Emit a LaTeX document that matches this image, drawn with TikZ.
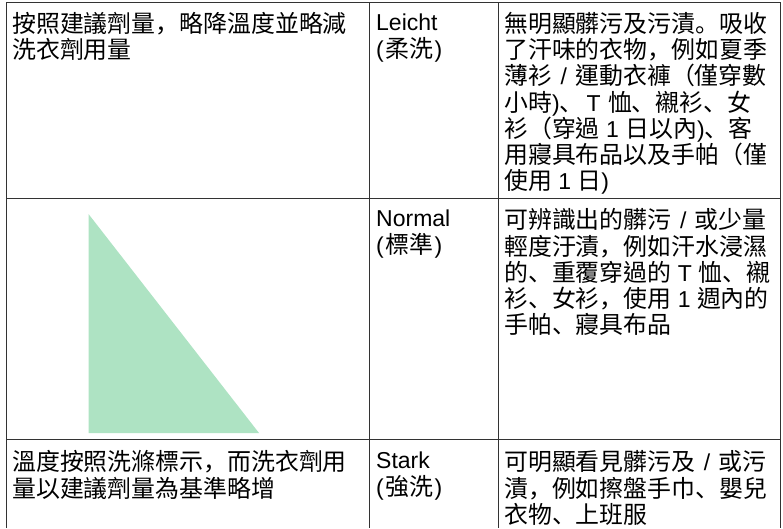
\documentclass[tikz,border=0pt]{standalone}
\usepackage{fontspec}
\setmainfont{Liberation Sans}
\newfontfamily\zhfont{Noto Sans CJK TC}
\newfontfamily\zpfont{Noto Sans CJK SC}
\newcommand{\zh}[1]{{\fontsize{23.9}{26.25}\selectfont\zhfont #1}}
\newcommand{\zp}[1]{{\fontsize{23.9}{26.25}\selectfont\zpfont #1}}
\newcommand{\slashsep}{\hspace{8.5pt}/\hspace{8.5pt}}
\newcommand{\lp}{(\hspace{1.5pt}}
\newcommand{\rp}{\hspace{1.5pt})}
\definecolor{gridc}{HTML}{333333}
\definecolor{tri}{HTML}{AEE3C3}
\tikzset{
  cell/.style={anchor=north west,inner sep=0pt,align=left,font=\fontsize{23}{26.25}\selectfont,
    execute at begin node={\rule{0pt}{21pt}}},
  gridline/.style={draw=gridc,line width=1pt}
}
\begin{document}
\begin{tikzpicture}[x=1pt,y=-1pt]
\useasboundingbox (0,0) rectangle (783,528);
\fill[white] (0,0) rectangle (783,528);
\fill[tri] (88.5,214) -- (88.5,433) -- (259,433) -- cycle;
\draw[gridline] (6.5,528) -- (6.5,2.5) -- (780,2.5) -- (780,528);
\draw[gridline] (369,2.5) -- (369,528);
\draw[gridline] (498.5,2.5) -- (498.5,528);
\draw[gridline] (6.5,198) -- (780,198);
\draw[gridline] (6.5,439) -- (780,439);
\node[cell] (a1) at (12,12) {\zh{按照建議劑量}\zp{，}\zh{略降溫度並略減}\\\zh{洗衣劑用量}};
\node[cell] (b1) at (376,14) {Leicht\\\lp\zh{柔洗}\rp};
\node[cell] (c1) at (504,12) {\zh{無明顯髒污及污漬}\zp{。}\zh{吸收}\\\zh{了汗味的衣物}\zp{，}\zh{例如夏季}\\\zh{薄衫}\slashsep\zh{運動衣褲（僅穿數}\\\zh{小時})\zp{、}\hspace{3pt}T\hspace{1pt} \zh{恤}\zp{、}\zh{襯衫}\zp{、}\zh{女}\\\zh{衫（穿過} 1 \zh{日以內})\zp{、}\zh{客}\\\zh{用寢具布品以及手帕（僅}\\\zh{使用} 1 \zh{日})};
\node[cell] (b2) at (376,210) {Normal\\\lp\zh{標準}\rp};
\node[cell] (c2) at (504,208.5) {\zh{可辨識出的髒污}\slashsep\zh{或少量}\\\zh{輕度汙漬}\zp{，}\zh{例如汗水浸濕}\\\zh{的}\zp{、}\zh{重覆穿過的} T \zh{恤}\zp{、}\zh{襯}\\\zh{衫}\zp{、}\zh{女衫}\zp{，}\zh{使用} 1 \zh{週內的}\\\zh{手帕}\zp{、}\zh{寢具布品}};
\node[cell] (a3) at (12,450.5) {\zh{溫度按照洗滌標示}\zp{，}\zh{而洗衣劑用}\\\zh{量以建議劑量為基準略增}};
\node[cell] (b3) at (376,452) {Stark\\\lp\zh{強洗}\rp};
\node[cell] (c3) at (504,450.5) {\zh{可明顯看見髒污及}\slashsep\zh{或污}\\\zh{漬}\zp{，}\zh{例如擦盤手巾}\zp{、}\zh{嬰兒}\\\zh{衣物}\zp{、}\zh{上班服}};
\end{tikzpicture}
\end{document}
